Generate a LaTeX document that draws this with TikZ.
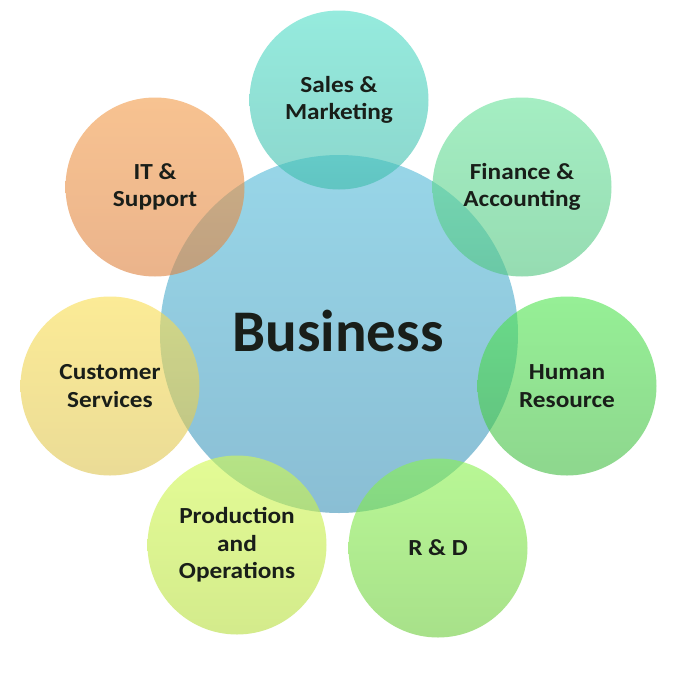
\documentclass[tikz,border=0pt]{standalone}
\usepackage{fontspec}
\setmainfont{Carlito}
\newfontfamily\lblfont[FakeStretch=1.1]{Carlito}
\definecolor{bizT}{RGB}{152,214,232}
\definecolor{bizB}{RGB}{138,190,212}
\definecolor{salesT}{RGB}{80,222,200}
\definecolor{salesB}{RGB}{63,188,172}
\definecolor{finT}{RGB}{105,227,155}
\definecolor{finB}{RGB}{80,197,127}
\definecolor{hrT}{RGB}{80,230,80}
\definecolor{hrB}{RGB}{67,188,67}
\definecolor{rdT}{RGB}{138,243,80}
\definecolor{rdB}{RGB}{110,205,60}
\definecolor{prodT}{RGB}{210,250,80}
\definecolor{prodB}{RGB}{183,222,63}
\definecolor{custT}{RGB}{250,222,80}
\definecolor{custB}{RGB}{222,197,80}
\definecolor{itT}{RGB}{243,155,72}
\definecolor{itB}{RGB}{222,130,63}
\definecolor{txt}{RGB}{25,30,25}
\begin{document}
\begin{tikzpicture}[x=1pt,y=-1pt,
  circ/.style={circle, inner sep=0pt, minimum size=179pt, align=center,
    font=\lblfont\fontsize{23}{27.5}\selectfont\bfseries, text=txt,
    fill opacity=0.6, text opacity=1},
  bigc/.style={circle, inner sep=0pt, minimum size=358pt}]
\useasboundingbox (0,0) rectangle (688,694);
\fill[white] (0,0) rectangle (688,694);
\node[bigc, top color=bizT, bottom color=bizB] (biz) at (339,334) {};
\node[circ, top color=salesT, bottom color=salesB] (sales) at (339,100) {Sales \&\\Marketing};
\node[circ, top color=finT, bottom color=finB] (fin) at (522,187) {Finance \&\\Accounting};
\node[circ, top color=hrT, bottom color=hrB] (hr) at (567,386) {Human\\Resource};
\node[circ, top color=rdT, bottom color=rdB] (rd) at (438,548) {R \& D};
\node[circ, top color=prodT, bottom color=prodB] (prod) at (237,545) {Production\\and\\Operations};
\node[circ, top color=custT, bottom color=custB] (cust) at (110,386) {Customer\\Services};
\node[circ, top color=itT, bottom color=itB] (it) at (155,187) {IT \&\\Support};
\node[font=\fontsize{59}{70}\selectfont\bfseries, text=txt] (biztext) at (338,331) {Business};
\end{tikzpicture}
\end{document}
